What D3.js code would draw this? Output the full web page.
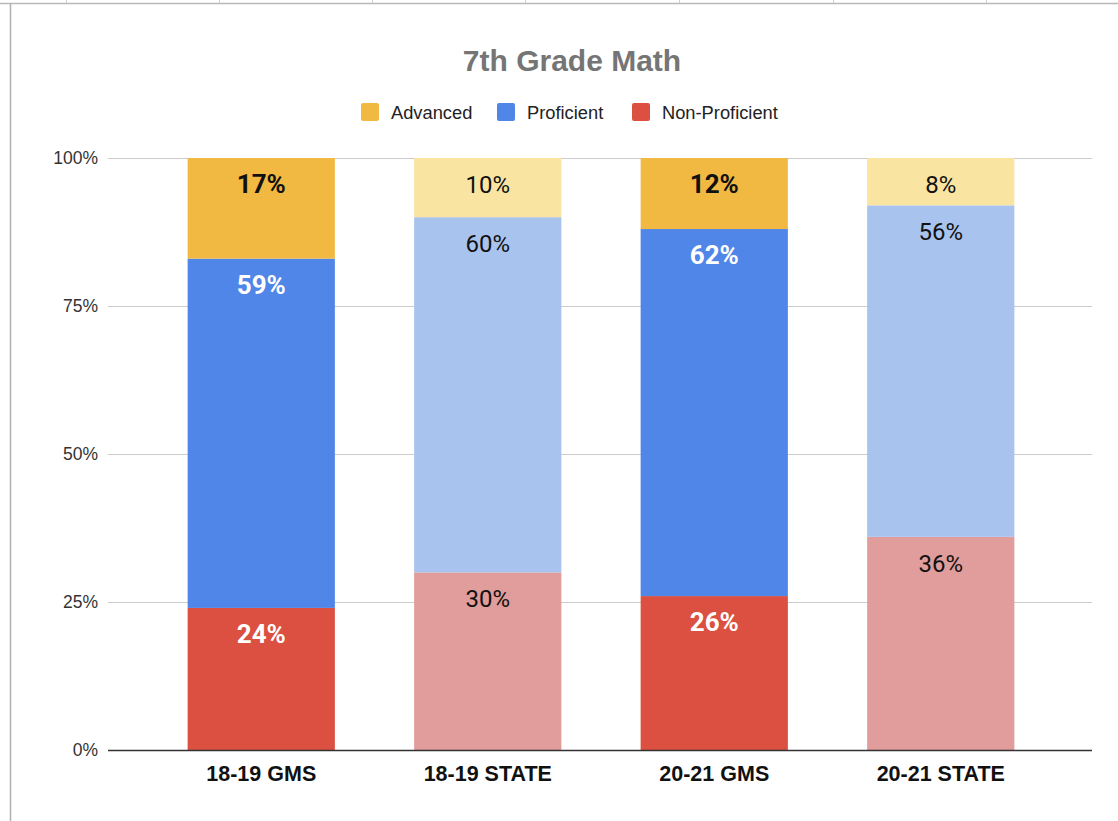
<!DOCTYPE html>
<html>
<head>
<meta charset="utf-8">
<script src="https://cdn.jsdelivr.net/npm/d3@7"></script>
<style>
  html, body { margin: 0; padding: 0; background: #fff; }
  svg { display: block; }
</style>
</head>
<body>
<script>
// chart data
const categories = ['18-19 GMS', '18-19 STATE', '20-21 GMS', '20-21 STATE'];
const series = ['Non-Proficient', 'Proficient', 'Advanced'];
const nonProficient = [24, 30, 26, 36];
const proficient = [59, 60, 62, 56];
const advanced = [17, 10, 12, 8];
const yTicks = [0, 25, 50, 75, 100];

const width = 1118;
const height = 821;

// strong colours for GMS bars, faded ones for STATE bars
const strong = { 'Advanced': '#f1b942', 'Proficient': '#4f86e8', 'Non-Proficient': '#db5040' };
const faded = { 'Advanced': '#f9e4a1', 'Proficient': '#a9c3ef', 'Non-Proficient': '#e09d9b' };
const isState = c => c.indexOf('STATE') >= 0;

const rows = categories.map((c, i) => ({
  cat: c,
  'Non-Proficient': nonProficient[i],
  'Proficient': proficient[i],
  'Advanced': advanced[i]
}));

const svg = d3.select('body')
  .append('svg')
  .attr('width', width)
  .attr('height', height);

// spreadsheet frame behind the chart
svg.append('line')
  .attr('x1', 0).attr('x2', width).attr('y1', 3.5).attr('y2', 3.5)
  .attr('stroke', '#b8b8b8').attr('stroke-width', 1.5);
[66, 219, 372, 525, 679, 833, 986].forEach(x => {
  svg.append('line')
    .attr('x1', x + 0.5).attr('x2', x + 0.5).attr('y1', 0).attr('y2', 3)
    .attr('stroke', '#d0d0d0');
});
svg.append('line')
  .attr('x1', 10.5).attr('x2', 10.5).attr('y1', 4).attr('y2', height)
  .attr('stroke', '#b0b0b0').attr('stroke-width', 1.5);

const x = d3.scaleBand()
  .domain(categories)
  .range([148, 1054])
  .paddingInner(0.35)
  .paddingOuter(0.175);

const y = d3.scaleLinear()
  .domain([0, 100])
  .range([750, 158]);

// gridlines
svg.append('g')
  .selectAll('line')
  .data(yTicks.filter(t => t > 0))
  .enter()
  .append('line')
  .attr('x1', 108).attr('x2', 1092)
  .attr('y1', d => y(d) + 0.5).attr('y2', d => y(d) + 0.5)
  .attr('stroke', '#cccccc');

// y axis labels
const yAxis = d3.axisLeft(y)
  .tickValues(yTicks)
  .tickSize(0)
  .tickPadding(0)
  .tickFormat(d => d + '%');
svg.append('g')
  .attr('transform', 'translate(98,0)')
  .call(yAxis)
  .call(g => g.select('.domain').remove())
  .selectAll('text')
  .attr('font-family', 'Liberation Sans, Arial, sans-serif')
  .attr('font-size', 17.5)
  .attr('fill', '#333');

// stacked bars
const stacked = d3.stack().keys(series)(rows);

const layers = svg.append('g')
  .selectAll('g')
  .data(stacked)
  .enter()
  .append('g');

layers.selectAll('rect')
  .data(d => d.map(p => ({ key: d.key, p })))
  .enter()
  .append('rect')
  .attr('x', d => x(d.p.data.cat))
  .attr('width', x.bandwidth())
  .attr('y', d => y(d.p[1]))
  .attr('height', d => y(d.p[0]) - y(d.p[1]))
  .attr('fill', d => isState(d.p.data.cat) ? faded[d.key] : strong[d.key]);

// value labels near the top of each segment
layers.selectAll('text')
  .data(d => d.map(p => ({ key: d.key, p })))
  .enter()
  .append('text')
  .attr('x', d => x(d.p.data.cat) + x.bandwidth() / 2)
  .attr('y', d => y(d.p[1]) + 35)
  .attr('text-anchor', 'middle')
  .attr('font-family', 'Roboto, sans-serif')
  .attr('font-size', d => isState(d.p.data.cat) ? 24 : 26)
  .attr('font-weight', d => isState(d.p.data.cat) ? 'normal' : 'bold')
  .attr('fill', d => (!isState(d.p.data.cat) && d.key !== 'Advanced') ? '#fff' : '#111')
  .text(d => (d.p[1] - d.p[0]) + '%');

// baseline
svg.append('line')
  .attr('x1', 108).attr('x2', 1092)
  .attr('y1', y(0) + 0.5).attr('y2', y(0) + 0.5)
  .attr('stroke', '#333').attr('stroke-width', 1.3);

// x axis labels
const xAxis = d3.axisBottom(x).tickSize(0).tickPadding(0);
svg.append('g')
  .attr('transform', `translate(0,${y(0)})`)
  .call(xAxis)
  .call(g => g.select('.domain').remove())
  .selectAll('text')
  .attr('dy', 31)
  .attr('font-family', 'Liberation Sans, Arial, sans-serif')
  .attr('font-size', 21.5)
  .attr('font-weight', 'bold')
  .attr('fill', '#111');

// title
svg.append('text')
  .attr('x', 572)
  .attr('y', 71)
  .attr('text-anchor', 'middle')
  .attr('font-family', 'Liberation Sans, Arial, sans-serif')
  .attr('font-size', 30)
  .attr('font-weight', 'bold')
  .attr('fill', '#757575')
  .text('7th Grade Math');

// legend
const legendItems = [
  { name: 'Advanced', x: 361 },
  { name: 'Proficient', x: 497 },
  { name: 'Non-Proficient', x: 632 }
];
const legend = svg.append('g')
  .selectAll('g')
  .data(legendItems)
  .enter()
  .append('g')
  .attr('transform', d => `translate(${d.x},103)`);

legend.append('rect')
  .attr('width', 18).attr('height', 18).attr('rx', 2)
  .attr('fill', d => strong[d.name]);

legend.append('text')
  .attr('x', 30)
  .attr('y', 15.5)
  .attr('font-family', 'Liberation Sans, Arial, sans-serif')
  .attr('font-size', 18.3)
  .attr('fill', '#222')
  .text(d => d.name);
</script>
</body>
</html>
